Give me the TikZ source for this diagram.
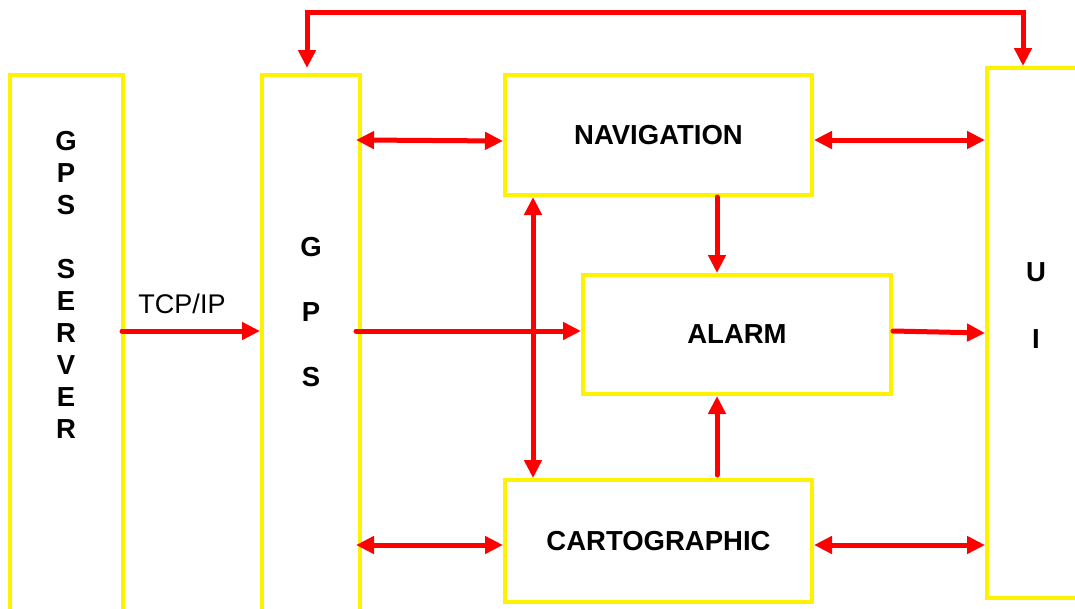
\documentclass[tikz,border=0pt]{standalone}
\usepackage{fontspec}
\setmainfont{Liberation Sans}
\usetikzlibrary{arrows.meta}
\tikzset{
  blok/.style={draw=yellow, line width=4pt, inner sep=0pt, align=center,
               font=\bfseries\fontsize{27.5}{32}\selectfont},
  txt/.style={inner sep=0pt, align=center, font=\bfseries\fontsize{27.5}{32}\selectfont},
  link/.style={draw=red, line width=5pt, line cap=round,
               -{Triangle[length=18pt,width=17pt]}},
  both/.style={link, {Triangle[length=18pt,width=17pt]}-{Triangle[length=18pt,width=17pt]}},
}
\begin{document}
\begin{tikzpicture}[x=1pt, y=-1pt]
  \useasboundingbox (0,0) rectangle (1075,608);
  \clip (0,0) rectangle (1075,608);

  % blocs (les grands sortent du cadre en bas / a droite)
  \node[blok, minimum width=113pt, minimum height=565pt] (server) at (66.5,357.5) {};
  \node[blok, minimum width=98pt, minimum height=565pt] (gps) at (311,357.5) {};
  \node[blok, minimum width=307pt, minimum height=120pt] (nav) at (658.5,135) {NAVIGATION};
  \node[blok, minimum width=308pt, minimum height=119pt] (alarm) at (737,334.5) {ALARM};
  \node[blok, minimum width=307pt, minimum height=122pt] (carto) at (658.5,541) {CARTOGRAPHIC};
  \node[blok, minimum width=200pt, minimum height=530pt] (ui) at (1087,333) {};

  % lettres verticales
  \node[txt] (serverlbl) at (66,285) {G\\P\\S\\[32pt]S\\E\\R\\V\\E\\R};
  \node[txt] (gpslbl) at (311,312) {G\\[33pt]P\\[33pt]S};
  \node[txt] (uilbl) at (1036,306) {U\\[35pt]I};
  \node[inner sep=0pt, font=\fontsize{27}{32}\selectfont] (tcp) at (182,304) {TCP/IP};

  % boucle du haut GPS <-> UI
  \coordinate (loopL) at (307,12);
  \coordinate (loopR) at (1023,12);
  \draw[both] ([xshift=-4pt,yshift=5pt]gps.north) -- (loopL) -- (loopR) -- (loopR |- ui.north);

  % liaisons horizontales
  \draw[both, shorten <=-6pt] (gps.east |- 0,140) -- (nav.west |- 0,141);
  \draw[both] (nav.east |- 0,140) -- (ui.west |- 0,140);
  \draw[link, shorten <=-3pt] (server.east |- 0,331) -- (gps.west |- 0,331);
  \draw[link, shorten <=-6pt] (gps.east |- 0,331) -- (alarm.west |- 0,331);
  \draw[link] (alarm.east |- 0,331) -- (ui.west |- 0,333);
  \draw[both, shorten <=-6pt] (gps.east |- 0,545) -- (carto.west |- 0,545);
  \draw[both] (carto.east |- 0,545) -- (ui.west |- 0,545);

  % liaisons verticales
  \draw[both] (nav.south -| 533,0) -- (carto.north -| 533,0);
  \draw[link] (nav.south -| 717,0) -- (alarm.north -| 717,0);
  \draw[link, shorten <=3pt] (carto.north -| 717,0) -- (alarm.south -| 717,0);
\end{tikzpicture}
\end{document}
